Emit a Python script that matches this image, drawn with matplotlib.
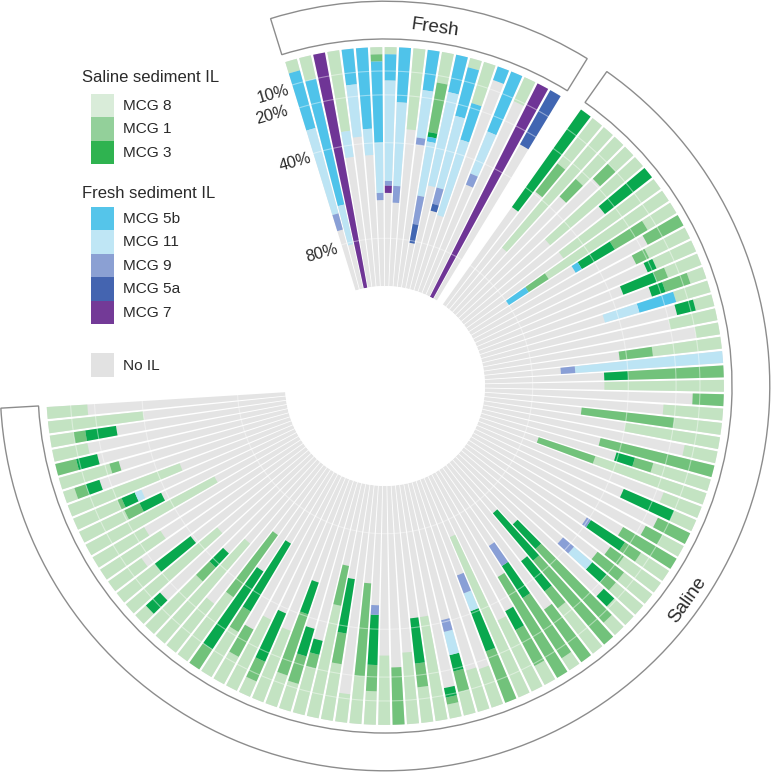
import numpy as np
import matplotlib
matplotlib.use("Agg")
import matplotlib.pyplot as plt
from matplotlib.patches import Rectangle

plt.rcParams["font.family"] = ["Liberation Sans", "DejaVu Sans"]

# share of each group per genome, % stacked from the outer edge
fresh_mcg8 = [5, 10, 0, 34, 0, 0, 3, 3, 0, 34, 0, 13, 0, 4, 18, 0, 0, 11, 0, 0]
fresh_mcg1 = [0, 0, 0, 0, 0, 0, 3, 0, 0, 0, 0, 21, 0, 0, 0, 0, 0, 0, 0, 0]
fresh_mcg3 = [0, 0, 0, 0, 0, 0, 0, 0, 0, 0, 0, 2, 0, 0, 0, 0, 0, 0, 0, 0]
fresh_mcg5b = [25, 54, 0, 0, 15, 34, 34, 11, 23, 0, 17, 2, 16, 21, 16, 6, 27, 0, 0, 0]
fresh_mcg11 = [37, 17, 0, 11, 22, 11, 21, 42, 35, 0, 20, 23, 40, 31, 33, 0, 19, 0, 0, 0]
fresh_mcg9 = [7, 0, 0, 0, 0, 0, 3, 2, 7, 0, 3, 12, 0, 7, 0, 0, 5, 0, 0, 0]
fresh_mcg5a = [0, 0, 0, 0, 0, 0, 0, 0, 0, 0, 0, 8, 0, 3, 0, 0, 0, 0, 0, 26]
fresh_mcg7 = [0, 0, 100, 0, 0, 0, 0, 3, 0, 0, 0, 0, 0, 0, 0, 0, 0, 0, 100, 0]

saline_mcg8 = [0, 24, 66, 24, 10, 51, 0, 50, 60, 14,
               0, 19, 18, 15, 7, 15, 8, 20, 10, 29,
               0, 0, 50, 0, 25, 20, 40, 14, 0, 25,
               49, 17, 10, 0, 10, 0, 14, 19, 15, 15,
               11, 7, 0, 24, 0, 6, 0, 9, 33, 73,
               0, 17, 18, 10, 6, 44, 15, 30, 0, 29,
               14, 20, 12, 24, 48, 20, 12, 14, 32, 7,
               33, 13, 22, 0, 33, 26, 55, 30, 6, 50,
               20, 17, 30, 25, 61, 21, 20, 50, 5, 22,
               0, 15, 10, 40, 17]
saline_mcg1 = [0, 15, 0, 10, 9, 0, 0, 0, 10, 16,
               17, 6, 0, 5, 11, 0, 0, 0, 0, 14,
               0, 40, 0, 13, 0, 39, 0, 0, 49, 8,
               25, 0, 0, 15, 8, 26, 8, 7, 14, 5,
               0, 42, 46, 9, 27, 30, 49, 17, 0, 0,
               23, 0, 0, 9, 3, 0, 10, 0, 24, 0,
               11, 39, 0, 13, 17, 6, 12, 27, 0, 9,
               0, 13, 10, 10, 32, 0, 0, 8, 0, 0,
               0, 0, 0, 0, 0, 7, 2, 0, 5, 4,
               9, 0, 5, 0, 0]
saline_mcg3 = [50, 0, 0, 0, 0, 0, 25, 0, 0, 16,
               0, 0, 4, 15, 6, 0, 8, 0, 0, 0,
               0, 10, 0, 0, 0, 0, 0, 0, 0, 8,
               0, 0, 23, 0, 0, 0, 17, 0, 0, 8,
               6, 14, 26, 16, 0, 16, 0, 9, 0, 0,
               18, 0, 0, 7, 4, 0, 19, 0, 0, 0,
               21, 0, 0, 23, 0, 6, 12, 14, 0, 22,
               0, 0, 33, 39, 0, 0, 0, 8, 8, 0,
               19, 0, 0, 0, 0, 10, 6, 0, 6, 0,
               9, 0, 13, 0, 0]
saline_mcg5b = [0, 0, 0, 0, 0, 0, 0, 0, 10, 3,
                0, 0, 0, 0, 0, 16, 0, 0, 0, 0,
                0, 0, 0, 0, 0, 0, 0, 0, 0, 0,
                0, 0, 0, 0, 0, 0, 0, 0, 0, 0,
                0, 0, 0, 0, 0, 0, 0, 0, 0, 0,
                0, 0, 0, 0, 0, 0, 0, 0, 0, 0,
                0, 0, 0, 0, 0, 0, 0, 0, 0, 0,
                0, 0, 0, 0, 0, 0, 0, 0, 0, 0,
                0, 0, 0, 0, 0, 0, 0, 0, 0, 0,
                0, 0, 0, 0, 0]
saline_mcg11 = [0, 0, 0, 0, 0, 0, 0, 0, 0, 0,
                0, 0, 0, 0, 0, 15, 0, 0, 0, 0,
                62, 0, 0, 0, 0, 0, 0, 0, 0, 0,
                0, 0, 0, 0, 0, 0, 0, 0, 0, 10,
                0, 0, 0, 0, 0, 0, 0, 0, 0, 0,
                8, 0, 0, 10, 0, 0, 0, 0, 0, 0,
                0, 0, 0, 0, 0, 0, 0, 0, 0, 0,
                0, 0, 0, 0, 0, 0, 0, 0, 0, 0,
                0, 0, 0, 0, 0, 0, 3, 0, 0, 0,
                0, 0, 0, 0, 0]
saline_mcg9 = [0, 0, 0, 0, 0, 0, 0, 0, 0, 0,
               0, 0, 0, 0, 0, 0, 0, 0, 0, 0,
               6, 0, 0, 0, 0, 0, 0, 0, 0, 0,
               0, 0, 0, 0, 0, 0, 2, 0, 0, 6,
               0, 0, 0, 0, 0, 10, 0, 0, 0, 0,
               8, 0, 0, 5, 0, 0, 0, 0, 0, 0,
               4, 0, 0, 0, 0, 0, 0, 0, 0, 0,
               0, 0, 0, 0, 0, 0, 0, 0, 0, 0,
               0, 0, 0, 0, 0, 0, 0, 0, 0, 0,
               0, 0, 0, 0, 0]

saline_labels = ["MCG 8", "MCG 1", "MCG 3"]
fresh_labels = ["MCG 5b", "MCG 11", "MCG 9", "MCG 5a", "MCG 7"]
ring_ticks = [10, 20, 40, 80]

# colours of the wedges, the legend swatches are a bit paler
bar_colors = ["#c3e3c2", "#72c27b", "#09a84e", "#4fc3ea", "#bce4f4", "#899fd6", "#4166b2", "#6f3596"]
saline_swatches = ["#d9ecd9", "#93d09a", "#2fb350"]
fresh_swatches = ["#55c5ea", "#bfe6f5", "#8ba0d3", "#4464b0", "#733a97"]
gray = "#e4e4e4"
frame = "#8c8c8c"
ink = "#2a2a2a"

SLOT = 2.437
FRESH_START = -16.1
SALINE_START = 36.35


def draw_group(ax, start, layers):
    """Dibuja un grupo de barras apiladas desde el borde exterior."""
    layers = np.array(layers, dtype=float)
    n = layers.shape[1]
    theta = np.radians(start + SLOT * np.arange(n))
    width = np.radians(SLOT * 0.83)
    ax.bar(theta, 100, width=width, bottom=0, color=gray, linewidth=0)
    bottom = np.zeros(n)
    for values, color in zip(layers, bar_colors):
        ax.bar(theta, values, width=width, bottom=bottom, color=color, linewidth=0)
        bottom += values
    edge = np.radians([start - SLOT / 2, start + SLOT * (n - 0.5)])
    for tick in ring_ticks:
        ax.plot(np.linspace(edge[0], edge[1], 120), np.full(120, tick),
                color="white", linewidth=0.8, alpha=0.42)


def draw_band(ax, start, end):
    """Marco vacío que rodea a un grupo."""
    a, b = np.radians([start, end])
    ax.bar((a + b) / 2, -15.8, width=b - a, bottom=-3.4, facecolor="none",
           edgecolor=frame, linewidth=1.0, clip_on=False)


fig = plt.figure(figsize=(7.72, 7.75), dpi=100)

# legend, in pixels of the picture
lg = fig.add_axes([0, 0, 1, 1])
lg.set_xlim(0, 772)
lg.set_ylim(775, 0)
lg.axis("off")

lg.text(82, 77, "Saline sediment IL", fontsize=12, va="center", color=ink)
for i, (name, color) in enumerate(zip(saline_labels, saline_swatches)):
    lg.add_patch(Rectangle((91, 94 + i * 23.4), 23, 23.4, color=color, linewidth=0))
    lg.text(123, 106 + i * 23.4, name, fontsize=11.1, va="center", color=ink)

lg.text(82, 193, "Fresh sediment IL", fontsize=12, va="center", color=ink)
for i, (name, color) in enumerate(zip(fresh_labels, fresh_swatches)):
    lg.add_patch(Rectangle((91, 207 + i * 23.4), 23, 23.4, color=color, linewidth=0))
    lg.text(123, 219 + i * 23.4, name, fontsize=11.1, va="center", color=ink)

lg.add_patch(Rectangle((91, 353), 23, 24, color="#e2e2e2", linewidth=0))
lg.text(123, 366, "No IL", fontsize=11.1, va="center", color=ink)

# radial chart: 0 % on the outside, 100 % around the hole
ax = fig.add_axes([-0.5 / 772, (775 - 771.5) / 775, 771 / 772, 771 / 775], projection="polar")
ax.patch.set_alpha(0)
ax.set_theta_zero_location("N")
ax.set_theta_direction(-1)
ax.set_rorigin(141.8)
ax.set_ylim(100, -19.5)
ax.axis("off")

draw_group(ax, FRESH_START, [fresh_mcg8, fresh_mcg1, fresh_mcg3, fresh_mcg5b,
                             fresh_mcg11, fresh_mcg9, fresh_mcg5a, fresh_mcg7])
zeros = [0] * len(saline_mcg8)
draw_group(ax, SALINE_START, [saline_mcg8, saline_mcg1, saline_mcg3, saline_mcg5b,
                              saline_mcg11, saline_mcg9, zeros, zeros])

draw_band(ax, -17.3, 31.7)
draw_band(ax, 35.2, 266.7)

ax.text(np.radians(8), -9.5, "Fresh", rotation=-8, fontsize=13.6, ha="center", va="center", color=ink)
ax.text(np.radians(125.3), -13.5, "Saline", rotation=54.7, fontsize=13.6, ha="center", va="center", color=ink)

for tick, ang, r in zip(ring_ticks, [-21, -22.7, -22, -25.5], [11, 19, 41, 80]):
    ax.text(np.radians(ang), r, f"{tick}%", rotation=16, fontsize=11.8,
            ha="center", va="center", color=ink)

plt.savefig("out.png", dpi=100)
